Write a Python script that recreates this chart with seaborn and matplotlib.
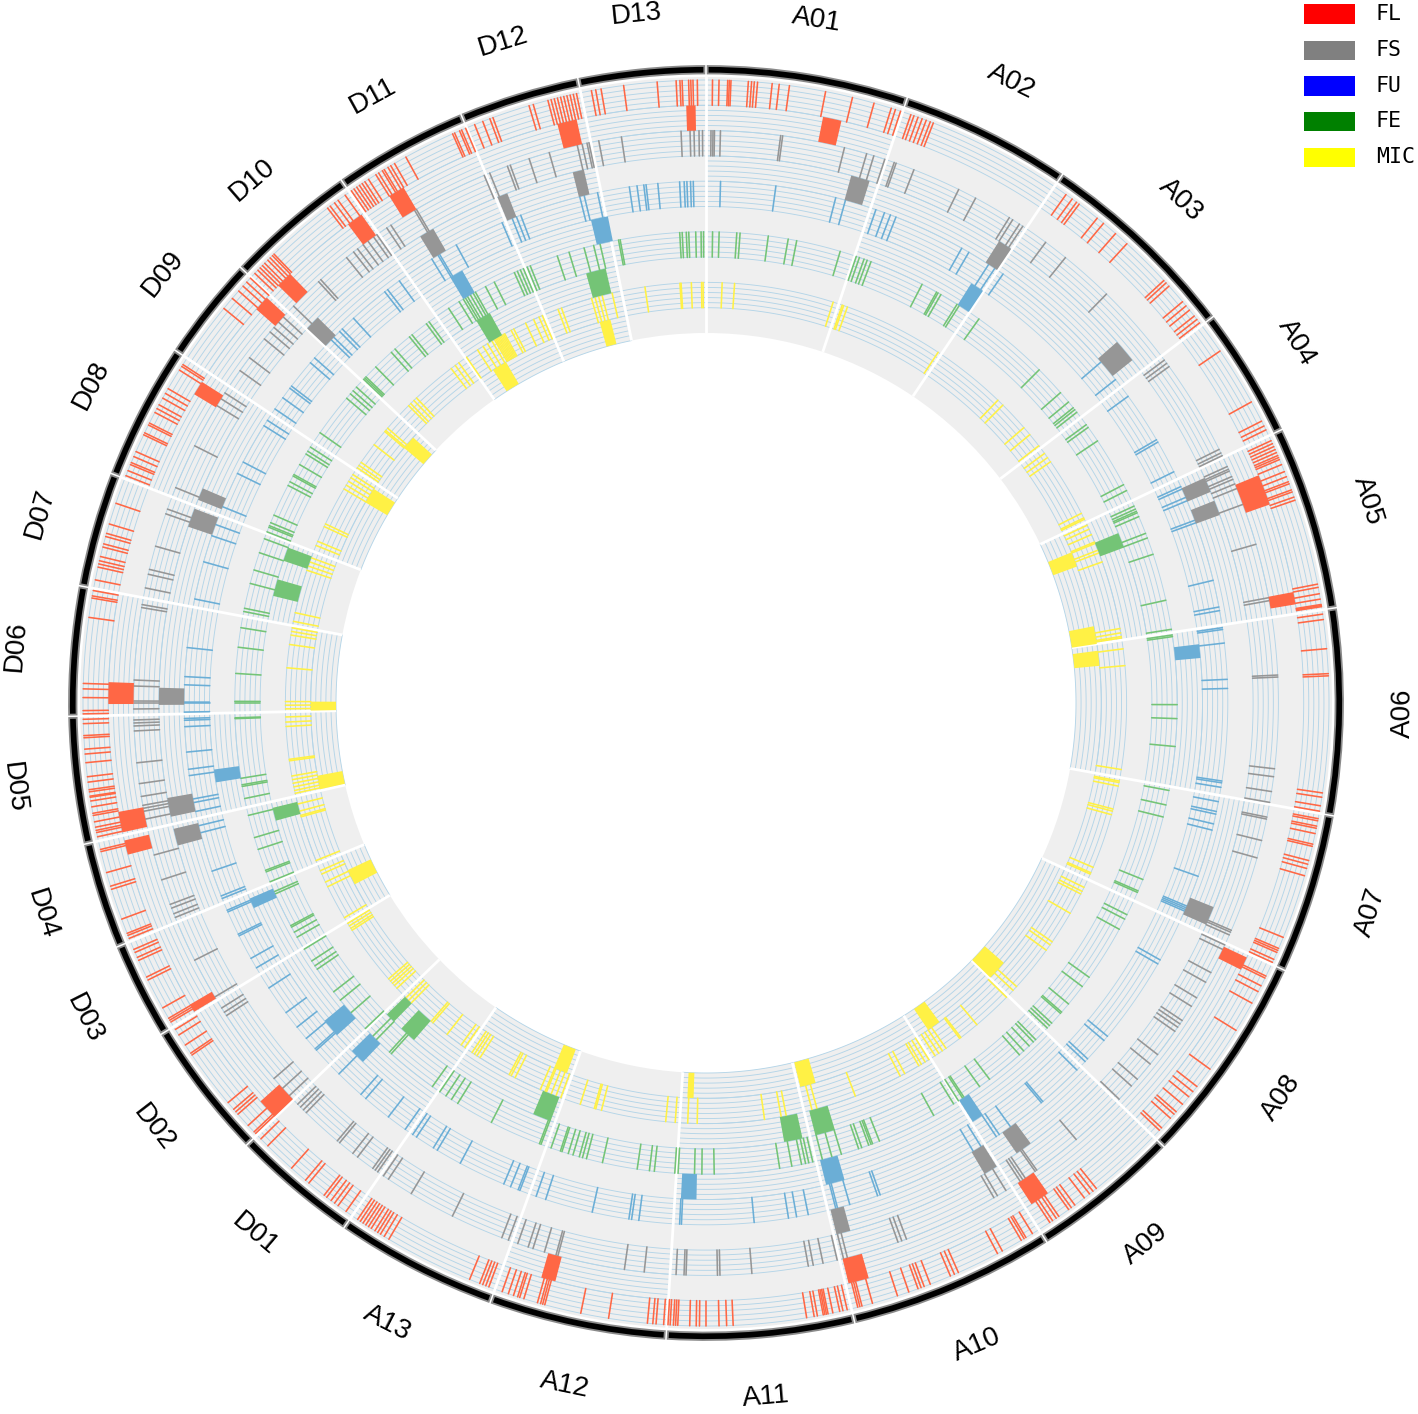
import numpy as np
import pandas as pd
import matplotlib
matplotlib.use("Agg")
import matplotlib.pyplot as plt
from matplotlib.patches import Rectangle
import seaborn as sns

# chromosome sectors, clockwise from the top, end position in degrees
chrom_names = ['A01', 'A02', 'A03', 'A04', 'A05', 'A06', 'A07', 'A08', 'A09', 'A10', 'A11', 'A12', 'A13',
               'D01', 'D02', 'D03', 'D04', 'D05', 'D06', 'D07', 'D08', 'D09', 'D10', 'D11', 'D12', 'D13']
chrom_ends = [18.4, 34, 52.7, 64.6, 81.4, 100.2, 114.8, 134.1, 147.7, 166.5, 183.6, 199.8, 214.6,
              226.1, 238.7, 247.5, 257.2, 268.8, 280.6, 291.1, 303.6, 313.1, 325.1, 337.4, 348.4, 360]

# single QTL positions
fl_ticks = [.6, 1.2, 2.0, 2.15, 2.3, 3.9, 4.2, 4.45, 4.75, 6.1, 6.75, 7.7, 11.07, 13.6, 15.65, 17.3, 17.7, 18.2,
            19.2, 19.5, 19.9, 20.3, 20.7, 21.1, 21.4,
            35.3, 36.0, 36.5, 36.8, 38.9, 39.65, 41.1, 42.5, 47.3, 47.6, 48.0, 49.9, 50.4, 50.9, 51.6, 52.0, 52.4,
            55.6, 61.1, 63.1, 63.6, 64.0,
            65.1, 65.4, 65.7, 66.0, 66.3, 66.6, 66.8, 67.0, 67.5, 68.2, 68.7, 69.2, 69.4, 70.0, 70.2, 70.7, 71.0,
            79.0, 79.3, 79.9, 80.4, 80.9, 81.0, 81.1,
            81.8, 82.3, 85.0, 87.3, 87.5, 98.3, 98.7, 99.5, 100.0,
            100.7, 100.9, 101.4, 101.6, 102.1, 103.1, 103.3, 104.65, 105.0, 105.4, 106.1, 112.1, 113.2, 113.4, 113.6, 114.3, 114.6,
            116.0, 116.2, 117.0, 117.6, 118.8, 121.7, 126.0, 128.0, 128.6, 129.2, 130.1, 131.0, 131.3, 131.8, 133.0, 133.3,
            141.2, 141.6, 142, 142.6, 143.7, 144.1, 144.4, 145.5, 145.8, 146.2, 146.5,
            148.4, 149.1, 149.3, 149.6, 151.6, 152.1, 156.1, 156.5, 156.9, 158.9, 159.5, 159.8, 160.1, 161, 162.1, 164.5, 165.5, 165.7, 165.9,
            166.9, 167.3, 167.6, 168.25, 168.7, 168.85, 169.0, 169.15, 169.7, 170, 170.7, 177.5, 178.1, 178.8, 180, 180.6, 180.9, 181.5,
            182.6, 182.8, 183.0, 183.3, 183.5,
            183.9, 184.6, 184.9, 185.4, 189, 191.6, 195.0, 195.2, 195.4, 195.7, 197, 197.4, 197.6, 198, 198.5, 199.1,
            200.4, 200.7, 201.0, 201.3, 202.3, 210.6, 211.1, 211.5, 211.8, 212.1, 212.5, 212.8, 213.1, 213.4, 213.7, 214.0,
            215.3, 216.2, 216.6, 217.0, 217.5, 217.8, 219.6, 220.0, 221.7, 224.7, 225.6,
            226.3, 226.5, 227.3, 228.7, 229, 229.3, 230.1, 235.6, 235.8, 236.7, 237.8, 238.4,
            239.2, 239.4, 239.6, 240.7, 243.6, 243.9, 245.6, 245.9, 246.4, 246.7,
            247.8, 248.1, 248.3, 249.7, 252.6, 252.9, 254.2, 256.2, 256.4,
            257.6, 258, 258.2, 258.5, 259, 259.6, 259.8, 260.4, 260.95, 261.3, 261.4, 261.8, 262, 262.7, 263.2, 264.5, 265.3, 265.75, 266.8, 267, 268.1, 268.5,
            269, 269.3, 270.5, 271.3, 271.8, 277.9, 279.7, 279.9, 280.4,
            281.4, 282.6, 282.9, 283.2, 283.6, 284.5, 284.8, 285.5, 285.8, 286.7, 288.7,
            291.4, 291.9, 292.5, 292.7, 293.3, 293.8, 295.5, 295.7, 296.5, 296.7, 297.8, 298.2, 298.6, 299.3, 299.8, 300.3, 302.3, 302.7, 302.9,
            309.3, 310.5, 311.4, 312, 312.5, 313,
            313.6, 314, 314.3, 314.6, 314.9, 315.3, 315.6, 315.9, 316.1, 322.6, 322.9, 323.4, 323.8, 324.6,
            325.3, 325.6, 325.9, 326.2, 326.5, 326.8, 327.2, 328, 328.3, 328.7, 328.9, 329.3, 329.6, 330, 331.2, 336, 336.2, 336.7, 336.9, 337.3,
            338.2, 339, 339.7, 340, 343.5, 343.9, 345.3, 345.6, 345.9, 346.2, 346.5, 346.8, 347.1, 347.4, 347.7, 348.0,
            349.4, 349.8, 350.3, 352.4, 355.5, 357.25, 357.6, 357.8, 358.4, 358.6, 358.8, 359.2]
fs_ticks = [.5, .7, .85, 1.45, 7.5, 7.7, 14, 16.3, 17.05, 18.2,
            19.2, 19.4, 21.3, 26.2, 28.1, 32.0, 32.4, 33.2, 33.6,
            36.4, 38.9, 44.4,
            53.2, 53.6, 54.0, 63.7, 64.1, 64.4,
            65.6, 65.9, 66.1, 66.7, 67.0, 67.5, 68.0, 69.7, 73.9, 79.4, 79.7,
            87.2, 87.4, 96.6, 97.4, 98.9, 100.0,
            101.5, 101.7, 103.9, 105.7, 113.4, 113.6, 113.9,
            115.0, 115.5, 118.1, 119.2, 121, 122, 123.7, 124.1, 124.5, 125, 127.9, 129.1, 131.1, 132, 133.8,
            139.7, 144.7, 144.9, 146.1, 146.4, 146.7,
            148.4, 149.4, 149.8, 159.5, 160, 160.4, 165.7, 166.1,
            166.75, 168.2, 169.2, 169.7, 175.4, 178.6, 178.85, 182.0, 182.2, 183,
            186.2, 188.2, 195, 195.2, 196.4, 197.6, 198.1, 199.2,
            200.2, 200.9, 206.3, 211, 213.7, 214.3,
            215.0, 215.3, 215.6, 217.5, 218.1, 219.8, 220.1, 224.3, 224.7, 225.1, 225.5,
            226.7, 227.7, 229, 236.9, 237.3, 237.8,
            239.1, 243.3,
            248, 248.4, 249, 249.4, 252, 254.6,
            258.3, 259.1, 259.4, 259.7, 260.6, 261.9, 264, 267.2, 267.7, 268, 268.3,
            269.4, 270, 270.2, 271.7, 272.3, 279.6, 279.9,
            281.6, 283, 283.5, 285.9, 289.3, 289.8,
            292.1, 296.7, 301.3, 302.1, 302.8,
            305.5, 307.1, 309.5, 310.4, 311, 311.7, 312.4,
            313.9, 317.4, 317.7, 321.1, 322, 322.5, 323.2, 323.8, 324.5, 324.9,
            326.1, 326.6, 329.4, 329.6, 337.2,
            337.8, 339.7, 340, 342, 344.1, 347, 347.5, 348, 348.2,
            349.2, 351.5, 357.5, 358.4, 358.8, 359.3, 359.65]
fu_ticks = [1.6, 7.7, 14.4, 15.5,
            19, 20, 20.7, 21.35, 29.35, 30.25, 32.8, 33.6,
            34.7, 49.2, 51.7,
            54, 59.7, 60, 63.7,
            65.5, 65.8, 66.8, 67.2, 69.5, 69.8, 76.4, 79.4, 79.8,
            81.7, 81.9, 83.4, 87.4, 88.4, 98.6, 98.8, 99.3,
            100.9, 102, 102.3, 103.4, 104.1, 109.4, 112.9, 113.1, 113.3, 113.5,
            119.5, 120, 129.7, 130.3, 133.0, 133.4,
            134.7, 139.8, 140, 144.3, 145.8, 146.2,
            148.2, 149.2, 160.5, 160.8, 164, 165.4, 165.6,
            168.7, 170, 170.9, 174.7, 182.7, 182.9,
            187.4, 188.2, 188.5, 192.6, 197.9, 199,
            200.9, 201.1, 202, 202.8, 208.1, 211, 211.5, 213.7, 214.2,
            215.2, 217.5, 220.7, 221.4, 224.7,
            228.3, 228.5, 230, 231.6, 233.6, 236.9,
            239.5, 240.7, 243.5, 243.7, 246.4, 246.6,
            248, 248.3, 251.2, 255.6, 256.4,
            258, 259, 259.4, 262, 262.7, 264.6, 267.4, 268.1, 268.3,
            269, 270, 270.1, 272, 272.9, 276.1,
            281.5, 285.7, 288.7, 290,
            292.1, 296.1, 297.5, 302.1, 302.8,
            304.3, 305.8, 307.1, 307.4, 310.7, 311.4,
            314.1, 314.5, 315.4, 315.8, 317.5, 322, 322.4, 324,
            328.3, 329.1, 329.3, 331.4, 337,
            338.2, 338.7, 339.2, 346, 346.5, 348,
            351.55, 352.4, 353.15, 353.4, 354.7, 357.1, 357.6, 357.9, 358.3, 358.6]
fe_ticks = [.8, 1.6, 3.75, 4.15, 7.6, 10.05, 11.1, 16.55,
            18.6, 19, 19.6, 20, 20.5, 27.3, 29.3, 29.5, 29.9, 32.2, 32.5,
            35.4, 45, 48.8, 50.3, 51.2, 51.5, 51.9,
            53.8, 54.2, 56.2, 62.4, 63.2,
            65.3, 65.7, 66, 66.2, 66.7, 68.9, 69.5, 71.6, 77.4, 81.0,
            81.7, 81.9, 90.2, 91.9, 95.3,
            100.7, 102.5, 104, 112, 113.5, 113.7,
            116.7, 117.3, 118.7, 125.6, 127, 129.7, 131, 131.2, 132.8, 133.2, 133.6,
            135.6, 136, 136.7, 137.6, 138.3, 143, 144.5, 146.8, 147, 147.6,
            148.3, 151.1, 158.4, 159.3, 159.5, 159.8, 160.7, 161.1, 163.3, 164.5, 165.7,
            166.9, 167.4, 167.8, 168.3, 169.5, 171, 179, 180.5, 181.4, 183.4,
            183.8, 186.3, 186.9, 188.4, 192.7, 194.7, 195.2, 195.6, 196.4, 197, 197.8, 198, 199.2,
            200.5, 200.7, 207.1, 211.8, 212.7, 213.5, 214.4,
            215.5, 221.9, 222.2, 224.4, 225,
            226.3, 228.9, 230.9, 232.2, 235.6, 236.1, 236.8, 238.5,
            240.2, 240.9, 241.6, 241.8, 246.1, 246.4,
            247.7, 249, 249.2, 251.9, 253.4, 256.2,
            258.3, 259.8, 260, 260.8, 268.1, 268.2,
            270, 270.2, 273.6, 276.8, 279.2,
            281.2, 281.6, 284.7, 286.4, 288.6, 290.4,
            291.3, 291.9, 292.1, 292.5, 293.5, 297.5, 298, 298.8, 299, 300.4, 301.9, 302.3, 302.9,
            305, 310.3, 311, 311.5, 312.1,
            313.4, 313.6, 313.8, 315.5, 318.1, 318.7, 321, 321.4, 323.6, 324,
            326.9, 328.4, 329, 329.3, 329.6, 330, 330.4, 330.7, 332.1, 333.3,
            336, 336.4, 336.8, 337.2, 337.7, 338.1, 341.6, 343.1, 345, 346.2, 347,
            349.3, 349.5, 356.8, 357.1, 357.6, 357.9, 358.75, 359.4, 359.7]
mic_ticks = [2.2, 3.9, 17.6,
             18.9, 19.1, 19.65, 33.5,
             43.95, 44.9, 49.1, 50.35, 52.3,
             53.6, 54.3, 55, 63.2, 63.9, 64.1,
             65, 65.6, 66.4, 67.5, 67.7, 68.7, 69.1, 70.4, 79.8, 80.4, 80.9, 81.1,
             82.6, 84.9, 99.1,
             100.7, 100.9, 101.4, 104.6, 104.9, 105.4, 113, 113.8, 114.0,
             116, 116.6, 117, 120, 124.6, 125.1, 126, 132.4, 133.1,
             134.4, 139.9, 142.7, 142.9, 145.2, 145.8, 146.4, 147,
             148, 148.6, 149.2, 149.6, 151.8, 152.5, 159.2, 164.7, 165.4,
             169, 169.7, 172, 181.2, 182.5,
             184.2, 185.5, 194.4, 195.2, 195.4, 197.4,
             200.2, 200.9, 201.6, 202.3, 202.5, 203.2, 207, 207.6, 207.9, 212.5, 213, 213.4, 213.8,
             215, 215.6, 218, 220.5, 220.8,
             224.5, 225, 225.5, 227.3, 227.8, 228.2, 228.6, 229, 237.3, 237.6, 238, 238.4,
             239.3, 244.1, 244.8, 246, 246.5,
             248, 254.3, 254.5, 255.1, 256.1,
             257.6, 258, 258.5, 259, 259.5, 260, 262.1, 262.3, 266.8, 267.4, 268.1,
             269.2, 269.7, 270.2, 274.8, 278, 279.3, 279.8, 280.3,
             281.2, 282.4, 288.4, 289, 289.6, 290.2,
             292, 292.6, 294.8, 295.2, 300.6, 301.2, 301.8, 302.4, 302.9,
             304, 304.4, 304.9, 307.9, 310.2, 310.4, 310.8,
             315, 315.4, 316, 316.5, 322.7, 323.4, 324,
             325.3, 327.1, 328, 328.7, 329.4, 329.8, 330, 330.2, 330.4, 330.6, 330.8, 331, 331.2, 331.4,
             332.4, 332.8, 334.6, 335.8, 336.6, 337.1,
             339.4, 339.9, 344.2, 344.7, 345.2, 345.7, 347.1,
             351.65, 356.45, 356.6, 358, 359.4, 359.6]

# QTL clusters, start and end in degrees
fl_blocks = [(11.3, 13.1), (67.6, 70.6), (79.3, 80.5), (115.2, 116.5), (145.1, 147.0), (164.2, 166.2), (194.6, 196.0),
             (226.2, 228.2), (238.9, 239.7), (255.3, 256.7), (257.5, 259.5), (269.9, 272), (301.1, 302.5), (311.2, 312.7),
             (314.3, 315.9), (323.2, 324.8), (328, 329.6), (345.6, 347.5), (358.1, 359)]
fs_blocks = [(15.4, 17.4), (32.4, 33.9), (48.7, 51.2), (65.7, 67.3), (68.3, 69.9), (111.9, 113.9), (143.6, 145.4), (147.9, 149.4),
             (164.7, 166.2), (254.9, 256.7), (258, 260), (269.8, 271.6), (288.8, 290.8), (291.8, 293.1), (313.2, 314.8),
             (328.5, 330.1), (337.6, 338.7), (345.9, 347.1)]
fu_blocks = [(32.3, 33.9), (83.2, 84.8), (146.1, 147.5), (163.8, 166), (181.1, 182.9), (223.7, 225.5), (228, 230.2),
             (245.6, 246.8), (260.8, 262.3), (329, 330.6), (346.6, 348.6)]
fe_blocks = [(67.6, 69.6), (163.2, 165.8), (167.5, 169.9), (200.4, 202.8), (220.9, 223.1), (224.4, 225.7), (254.7, 256.4),
             (283.9, 286.1), (288.6, 290.4), (329, 331), (344.4, 347)]
mic_blocks = [(67.6, 69.8), (78.8, 81.4), (82.4, 84.6), (131.1, 134), (143.8, 145.8), (163.9, 166.2), (181.8, 182.7),
              (200.6, 202.6), (242.7, 245), (257.4, 259.4), (268.9, 270.2), (300.5, 302.8), (310.2, 312.2), (327.4, 329.6),
              (344.4, 346)]

traits = ['FL', 'FS', 'FU', 'FE', 'MIC']
all_ticks = [fl_ticks, fs_ticks, fu_ticks, fe_ticks, mic_ticks]
all_blocks = [fl_blocks, fs_blocks, fu_blocks, fe_blocks, mic_blocks]
mark_colors = ['#FF6745', '#969696', '#6BAED6', '#74C476', '#FFF145']
legend_colors = ['red', 'gray', 'blue', 'green', 'yellow']

sns.set_theme(style="white")
plt.rcParams['font.family'] = ['Liberation Sans', 'DejaVu Sans']

W, H = 1418, 1414
cx, cy = 706, 703
rmax = 645
inner = 370
track_h = 25.3

fig = plt.figure(figsize=(W / 100, H / 100), dpi=100)
ax = fig.add_axes([(cx - rmax) / W, (H - cy - rmax) / H, 2 * rmax / W, 2 * rmax / H], polar=True)
ax.set_theta_zero_location('N')
ax.set_theta_direction(-1)

starts = np.array([0] + chrom_ends[:-1])
ends = np.array(chrom_ends)
mids = (starts + ends) / 2
widths = ends - starts

# grey background of the ten tracks and the black chromosome band
ax.bar(np.radians(mids), 10 * track_h + 3, np.radians(widths), bottom=inner, color='#EFEFEF', linewidth=0, zorder=1)
ax.bar(np.radians(mids), 7.5, np.radians(widths - 0.3), bottom=629.5, color='black',
       edgecolor='#8A8A8A', linewidth=1.3, zorder=1)


def track_base(trait_no, is_block):
    # outermost track is FL ticks, innermost is MIC blocks
    return inner + track_h * (8 - 2 * trait_no + (0 if is_block else 1))


# thin concentric lines, only where a track has something in that chromosome
def draw_rings(positions, base):
    for s, e in zip(starts, ends):
        if any(s <= p < e for p in positions):
            th = np.radians(np.linspace(s, e, 40))
            for i in range(6):
                ax.plot(th, np.full(40, base + i * track_h / 5), color='#B4D5E8', lw=0.65, zorder=2)


for n in range(5):
    draw_rings(all_ticks[n], track_base(n, False))
    draw_rings([(a + b) / 2 for a, b in all_blocks[n]], track_base(n, True))

# white separators between chromosomes
ax.vlines(np.radians(ends), inner, inner + 10 * track_h + 5, color='white', lw=2.0, zorder=3)

# single QTLs are thin radial lines
rows = []
for n, name in enumerate(traits):
    base = track_base(n, False)
    for i, p in enumerate(all_ticks[n]):
        rows.append((name, f'{name}{i}', np.radians(p), base))
        rows.append((name, f'{name}{i}', np.radians(p), base + track_h))
df = pd.DataFrame(rows, columns=['trait', 'qtl', 'theta', 'r'])
sns.lineplot(data=df, x='theta', y='r', hue='trait', units='qtl', estimator=None, sort=False,
             palette=dict(zip(traits, mark_colors)), lw=1.15, legend=False, ax=ax, zorder=4)

# clusters are filled blocks
for n in range(5):
    blocks = np.array(all_blocks[n])
    ax.bar(np.radians(blocks.mean(axis=1)), track_h, np.radians(blocks[:, 1] - blocks[:, 0]),
           bottom=track_base(n, True), color=mark_colors[n], linewidth=0, zorder=5)

ax.set_ylim(0, rmax)
ax.set_axis_off()

# chromosome names follow the circle, flipped on the lower half
for name, m in zip(chrom_names, mids):
    flipped = 90 < m < 270
    rot = 180 - m if flipped else -m
    ax.text(np.radians(m), 697 if flipped else 692, name, rotation=rot, rotation_mode='anchor',
            ha='center', va='center', fontsize=20, color='black', clip_on=False)

# legend in the top right corner
for name, col, y0 in zip(traits, legend_colors, [4.3, 40.7, 76.3, 111.7, 147.7]):
    fig.add_artist(Rectangle((1304 / W, 1 - (y0 + 19.4) / H), 51 / W, 19.4 / H, color=col,
                             transform=fig.transFigure, linewidth=0))
    fig.text(1376 / W, 1 - (y0 + 9.7) / H, name, ha='left', va='center', fontsize=15.5,
             family='DejaVu Sans Mono', color='black')

fig.savefig('out.png', dpi=100, facecolor='white')
